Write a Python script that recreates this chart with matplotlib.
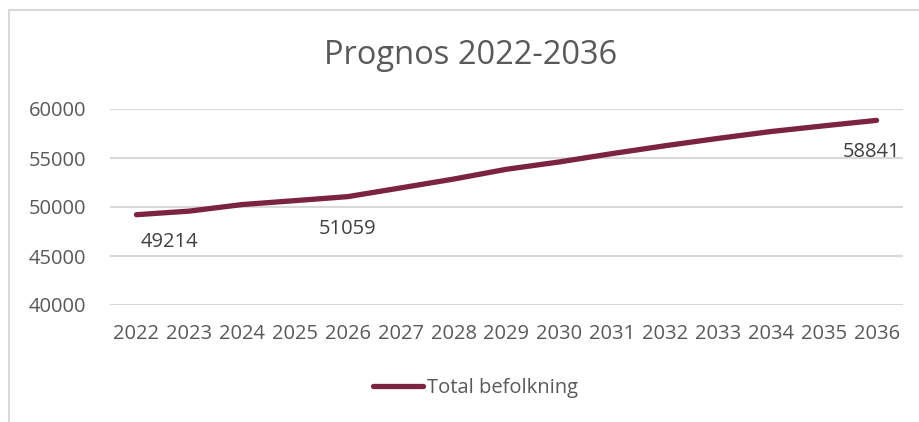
import matplotlib
matplotlib.use('Agg')
import matplotlib.pyplot as plt
from matplotlib.patches import Rectangle

years = ['2022', '2023', '2024', '2025', '2026', '2027', '2028', '2029',
         '2030', '2031', '2032', '2033', '2034', '2035', '2036']
population = [49214, 49580, 50250, 50650, 51059, 51950, 52850, 53850,
              54600, 55450, 56250, 57000, 57700, 58280, 58841]
labelled = {0: (33, -27), 4: (0, -32), 14: (-5, -32)}

line_color = '#7b2341'
text_color = '#595959'
grid_color = '#d9d9d9'

plt.rcParams['font.family'] = ['Open Sans', 'DejaVu Sans']

fig = plt.figure(figsize=(9.2, 4.22), dpi=100)
ax = fig.add_axes([110 / 920, 1 - 305 / 422, 793 / 920, 196 / 422])

x = list(range(len(years)))
ax.plot(x, population, color=line_color, lw=3.8, solid_capstyle='round',
        label='Total befolkning')

for i, (dx, dy) in labelled.items():
    ax.annotate(str(population[i]), (x[i], population[i]), xytext=(dx, dy),
                textcoords='offset pixels', ha='center', va='center',
                fontsize=14.5, color='#404040')

ax.set_xlim(-0.5, len(years) - 0.5)
ax.set_ylim(40000, 60000)
ax.set_yticks([40000, 45000, 50000, 55000, 60000])
ax.set_xticks(x)
ax.set_xticklabels(years)
ax.tick_params(length=0, labelsize=14.5, labelcolor=text_color)
ax.tick_params(axis='y', pad=17)
ax.tick_params(axis='x', pad=14)
ax.grid(axis='y', color=grid_color, lw=1.5)
ax.set_axisbelow(True)
for s in ax.spines.values():
    s.set_visible(False)

fig.text(471 / 920, 1 - 56 / 422, 'Prognos 2022-2036', ha='center',
         va='center', fontsize=23.5, color=text_color)

fig.legend(loc='center', bbox_to_anchor=(0.517, 1 - 388 / 422), frameon=False,
           fontsize=14.5, labelcolor=text_color, handlelength=2.5,
           handletextpad=0.2)

fig.patches.append(Rectangle((9 / 920, -0.5), 2, 0.5 + 1 - 10 / 422,
                             transform=fig.transFigure, fill=False,
                             edgecolor=grid_color, lw=1.5))

fig.savefig('out.png', dpi=100)
